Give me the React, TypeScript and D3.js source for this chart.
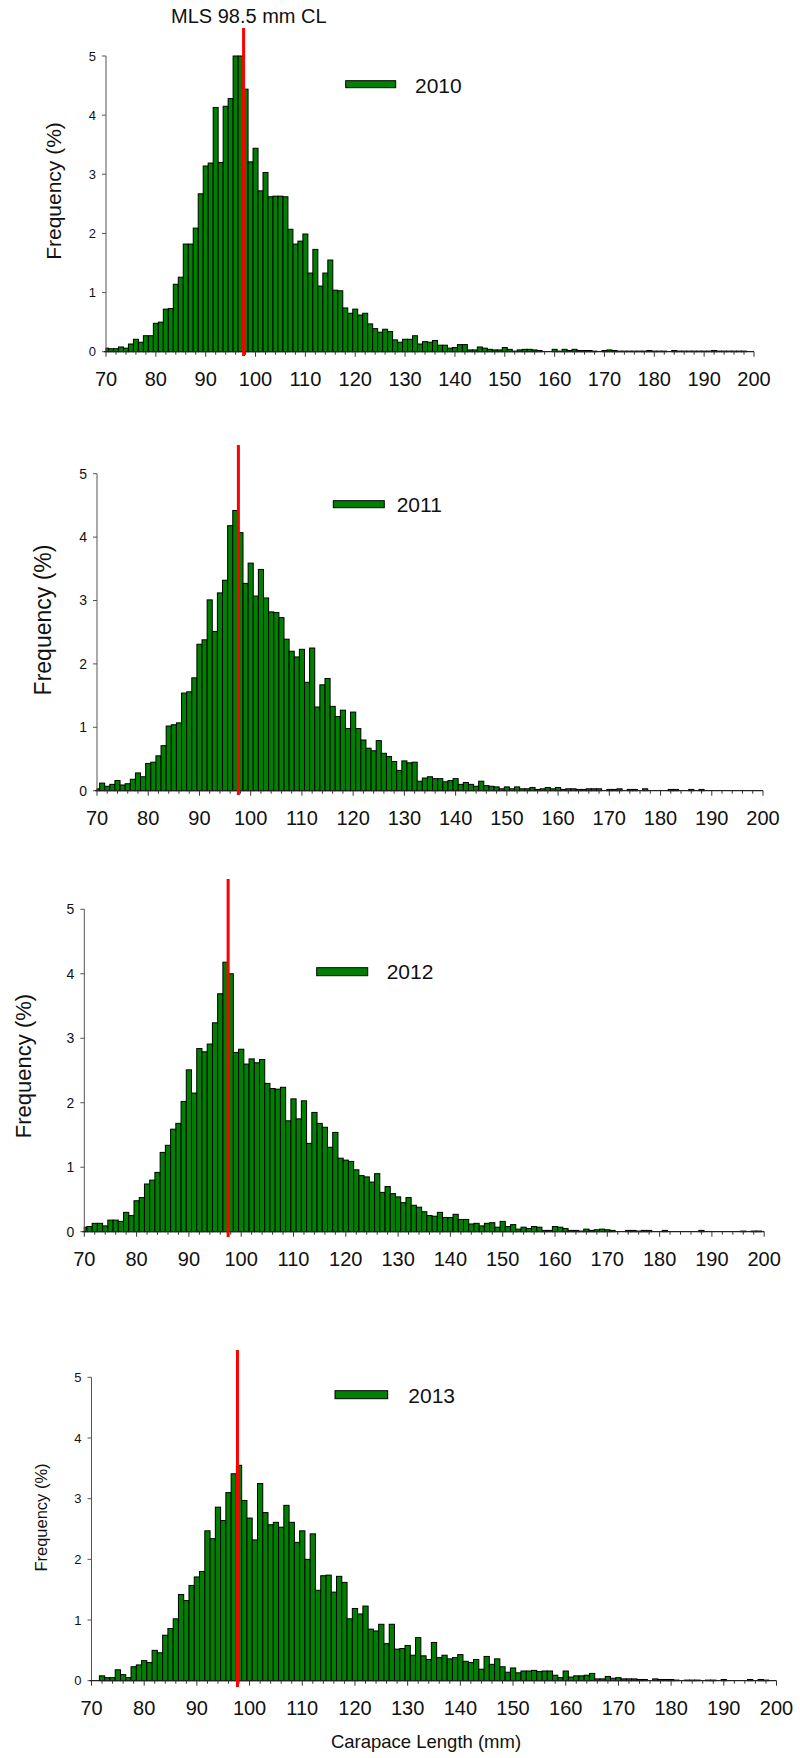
import React from 'react';
import * as d3 from 'd3';

// Carapace length categories (mm), one bar per mm
const LENGTHS: number[] = d3.range(70, 201);
const X_TICK_LABELS = [70, 80, 90, 100, 110, 120, 130, 140, 150, 160, 170, 180, 190, 200];
const Y_TICK_LABELS = [0, 1, 2, 3, 4, 5];
const YEARS = ['2010', '2011', '2012', '2013'];
const MLS_LABEL = 'MLS 98.5 mm CL';
const X_TITLE = 'Carapace Length (mm)';
const Y_TITLE = 'Frequency (%)';
// position (in axis units) where the red MLS line was drawn in each panel
const MLS_DRAWN = [97.6, 97.6, 97.5, 97.7];

const freq2010 = [
  0.06, 0.05, 0.05, 0.08, 0.06, 0.13, 0.21, 0.16, 0.27, 0.27,
  0.48, 0.50, 0.72, 0.73, 1.14, 1.26, 1.82, 1.82, 2.09, 2.67,
  3.14, 3.19, 4.13, 3.20, 4.15, 4.28, 5.00, 5.00, 4.44, 3.21,
  3.44, 2.72, 3.03, 2.62, 2.63, 2.63, 2.62, 2.07, 1.82, 1.87,
  1.99, 1.33, 1.73, 1.11, 1.33, 1.55, 1.04, 1.03, 0.74, 0.65,
  0.72, 0.62, 0.65, 0.47, 0.39, 0.33, 0.38, 0.34, 0.20, 0.16,
  0.21, 0.21, 0.27, 0.13, 0.17, 0.16, 0.19, 0.11, 0.11, 0.06,
  0.07, 0.12, 0.12, 0.03, 0.03, 0.08, 0.06, 0.04, 0.03, 0.03,
  0.07, 0.04, 0.01, 0.03, 0.04, 0.04, 0.03, 0.02, 0, 0,
  0.04, 0.01, 0.04, 0.02, 0.04, 0.02, 0.02, 0.02, 0.01, 0,
  0.02, 0.03, 0.02, 0.01, 0.01, 0.01, 0.01, 0.01, 0.01, 0.02,
  0.01, 0.01, 0.01, 0, 0.02, 0.01, 0.01, 0.01, 0.01, 0.01,
  0.01, 0.01, 0.02, 0.01, 0.01, 0.01, 0.01, 0.01, 0.01, 0,
  0,
];

const freq2011 = [
  0.03, 0.12, 0.07, 0.10, 0.16, 0.09, 0.11, 0.18, 0.28, 0.22,
  0.43, 0.45, 0.55, 0.71, 1.02, 1.04, 1.07, 1.54, 1.56, 1.78,
  2.31, 2.38, 3.01, 2.51, 3.12, 3.32, 4.18, 4.42, 4.07, 3.27,
  3.59, 3.07, 3.49, 3.04, 2.82, 2.81, 2.73, 2.39, 2.20, 2.11,
  2.23, 1.71, 2.25, 1.32, 1.67, 1.77, 1.33, 1.17, 1.27, 0.98,
  1.24, 0.98, 0.80, 0.67, 0.63, 0.79, 0.59, 0.54, 0.46, 0.32,
  0.47, 0.44, 0.45, 0.15, 0.20, 0.22, 0.19, 0.19, 0.14, 0.16,
  0.19, 0.10, 0.13, 0.10, 0.07, 0.15, 0.08, 0.07, 0.06, 0.03,
  0.06, 0.03, 0.06, 0.03, 0.03, 0.05, 0.02, 0.03, 0.05, 0.03,
  0.05, 0.02, 0.03, 0.03, 0.02, 0.02, 0.03, 0.03, 0.03, 0,
  0.02, 0.02, 0.03, 0, 0.02, 0.02, 0, 0.03, 0, 0,
  0, 0, 0.02, 0.02, 0, 0, 0.02, 0, 0.02, 0,
  0, 0, 0, 0, 0, 0, 0, 0, 0, 0,
  0,
];

const freq2012 = [
  0.07, 0.08, 0.13, 0.13, 0.09, 0.18, 0.18, 0.16, 0.30, 0.25,
  0.48, 0.53, 0.74, 0.80, 0.92, 1.23, 1.34, 1.59, 1.68, 2.02,
  2.51, 2.15, 2.84, 2.79, 2.91, 3.24, 3.69, 4.18, 4.00, 2.78,
  2.83, 2.60, 2.68, 2.62, 2.67, 2.30, 2.22, 2.21, 2.24, 1.72,
  2.06, 1.75, 2.03, 1.37, 1.85, 1.68, 1.62, 1.31, 1.54, 1.14,
  1.11, 1.09, 0.96, 0.87, 0.85, 0.77, 0.90, 0.61, 0.70, 0.59,
  0.54, 0.45, 0.53, 0.41, 0.38, 0.31, 0.25, 0.24, 0.30, 0.22,
  0.22, 0.27, 0.19, 0.19, 0.12, 0.13, 0.09, 0.13, 0.14, 0.07,
  0.16, 0.08, 0.11, 0.04, 0.07, 0.05, 0.08, 0.07, 0.02, 0.02,
  0.08, 0.07, 0.05, 0.02, 0.02, 0.01, 0.04, 0.02, 0.03, 0.04,
  0.03, 0.02, 0, 0, 0.02, 0.02, 0.01, 0.02, 0.02, 0,
  0, 0.02, 0, 0, 0, 0, 0, 0, 0.02, 0,
  0, 0, 0, 0, 0, 0, 0.01, 0, 0.01, 0.01,
  0,
];

const freq2013 = [
  0, 0, 0.08, 0.05, 0.05, 0.18, 0.10, 0.05, 0.23, 0.26,
  0.33, 0.30, 0.50, 0.46, 0.75, 0.86, 1.02, 1.42, 1.32, 1.57,
  1.71, 1.80, 2.47, 2.34, 2.86, 2.64, 3.10, 3.41, 3.55, 2.97,
  2.68, 2.32, 3.25, 2.77, 2.57, 2.61, 2.53, 2.89, 2.61, 2.28,
  2.47, 2.00, 2.42, 1.49, 1.73, 1.74, 1.46, 1.72, 1.62, 1.02,
  1.19, 1.10, 1.23, 0.85, 0.82, 0.93, 0.61, 0.93, 0.52, 0.53,
  0.58, 0.42, 0.71, 0.41, 0.35, 0.63, 0.38, 0.42, 0.36, 0.38,
  0.43, 0.32, 0.30, 0.35, 0.19, 0.40, 0.27, 0.36, 0.23, 0.14,
  0.21, 0.13, 0.16, 0.16, 0.17, 0.15, 0.16, 0.16, 0.09, 0.05,
  0.16, 0.06, 0.08, 0.08, 0.09, 0.12, 0.03, 0.03, 0.07, 0.04,
  0.05, 0.03, 0.03, 0.03, 0.02, 0.02, 0, 0.03, 0.02, 0.02,
  0.02, 0.01, 0, 0.01, 0.01, 0.01, 0, 0.01, 0.01, 0,
  0.02, 0, 0, 0, 0, 0.02, 0, 0.02, 0.01, 0,
  0,
];

const SERIES = [freq2010, freq2011, freq2012, freq2013];

// layout of each panel (pixels)
const LAYOUT = [
  { x0: 106, x1: 754, yTop: 56, yBase: 351.7, leg: { x: 345.7, y: 80.7, w: 50, h: 7, tx: 415, ty: 92.7 }, yt: { x: 60.7, y: 191, size: 21 }, ytick: 13, red: [28, 356] },
  { x0: 97, x1: 763, yTop: 473.7, yBase: 790.7, leg: { x: 333.3, y: 500.7, w: 51, h: 7, tx: 396.7, ty: 511.7 }, yt: { x: 51, y: 620, size: 23 }, ytick: 14, red: [445, 795] },
  { x0: 84.3, x1: 764.2, yTop: 909.3, yBase: 1231.7, leg: { x: 316.7, y: 967.7, w: 51, h: 8, tx: 386.7, ty: 979 }, yt: { x: 31, y: 1066, size: 22 }, ytick: 14, red: [879, 1237] },
  { x0: 91.5, x1: 776.5, yTop: 1377.3, yBase: 1680.7, leg: { x: 335, y: 1390.7, w: 52.7, h: 8, tx: 408.3, ty: 1402.7 }, yt: { x: 47, y: 1517.5, size: 16.5 }, ytick: 13, red: [1350, 1687] },
];

const FONT = "'Liberation Sans', Arial, Helvetica, sans-serif";
const BAR_FILL = '#008000';

function Panel({ idx }: { idx: number }) {
  const L = LAYOUT[idx];
  const data = SERIES[idx];
  const x = d3.scaleLinear().domain([70, 200]).range([L.x0, L.x1]);
  const y = d3.scaleLinear().domain([0, 5]).range([L.yBase, L.yTop]);
  const minorTicks = d3.range(70, 201, 2);

  return (
    <g>
      {data.map((v, i) => {
        if (v <= 0) return null;
        const c = LENGTHS[i];
        const xl = Math.max(x(c - 0.5), x(70));
        const xr = Math.min(x(c + 0.5), x(200));
        return (
          <rect key={c} x={xl} y={y(v)} width={xr - xl} height={y(0) - y(v)}
            fill={BAR_FILL} stroke="#000" strokeWidth={1} />
        );
      })}
      {/* y axis */}
      <line x1={x(70)} x2={x(70)} y1={y(0)} y2={y(5)} stroke="#555" strokeWidth={1} />
      {Y_TICK_LABELS.map((t) => (
        <g key={t}>
          <line x1={x(70) - 4} x2={x(70)} y1={y(t)} y2={y(t)} stroke="#555" strokeWidth={1} />
          <text x={x(70) - 10} y={y(t)} dy="0.35em" textAnchor="end" fontSize={L.ytick} fontFamily={FONT} fill="#111">{t}</text>
        </g>
      ))}
      {/* x axis */}
      <line x1={x(70) - 2} x2={x(200)} y1={y(0)} y2={y(0)} stroke="#222" strokeWidth={1.2} />
      {minorTicks.map((t) => (
        <line key={t} x1={x(t)} x2={x(t)} y1={y(0)} y2={y(0) + (t % 10 === 0 ? 5 : 3)} stroke="#333" strokeWidth={1} />
      ))}
      {X_TICK_LABELS.map((t) => (
        <text key={t} x={x(t)} y={y(0) + 34} textAnchor="middle" fontSize={20} fontFamily={FONT} fill="#111">{t}</text>
      ))}
      {/* y title */}
      <text transform={`translate(${L.yt.x},${L.yt.y}) rotate(-90)`} textAnchor="middle" fontSize={L.yt.size} fontFamily={FONT} fill="#111">{Y_TITLE}</text>
      {/* legend */}
      <rect x={L.leg.x} y={L.leg.y} width={L.leg.w} height={L.leg.h} fill={BAR_FILL} stroke="#000" strokeWidth={1} />
      <text x={L.leg.tx} y={L.leg.ty} fontSize={21} fontFamily={FONT} fill="#111">{YEARS[idx]}</text>
      {/* MLS line */}
      <line x1={x(MLS_DRAWN[idx])} x2={x(MLS_DRAWN[idx])} y1={L.red[0]} y2={L.red[1]} stroke="#ff0000" strokeWidth={3} />
    </g>
  );
}

export default function App() {
  return (
    <svg width={800} height={1758} viewBox="0 0 800 1758"
      style={{ position: 'absolute', left: 0, top: 0, display: 'block', background: '#fff' }}>
      <rect x={0} y={0} width={800} height={1758} fill="#fff" />
      <text x={171} y={23} fontSize={20} fontFamily={FONT} fill="#111">{MLS_LABEL}</text>
      {YEARS.map((yr, i) => <Panel key={yr} idx={i} />)}
      <text x={426} y={1748} textAnchor="middle" fontSize={18.5} fontFamily={FONT} fill="#111">{X_TITLE}</text>
    </svg>
  );
}
